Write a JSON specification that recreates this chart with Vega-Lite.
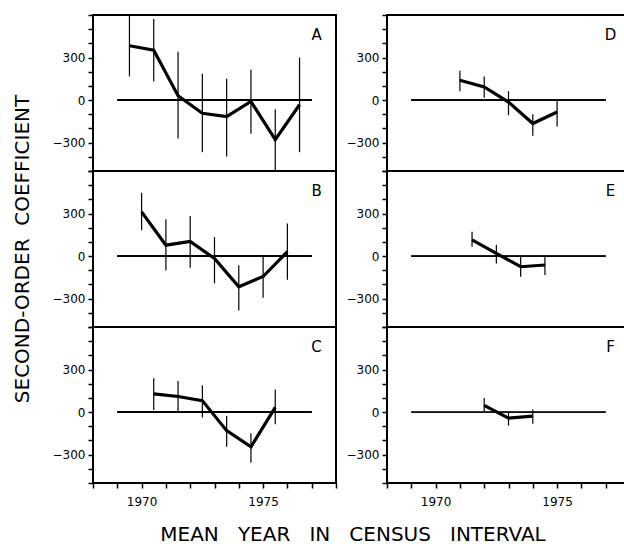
{
  "$schema": "https://vega.github.io/schema/vega-lite/v6.json",
  "padding": {"left": 12, "top": 13, "right": 0, "bottom": 0},
  "background": "white",
  "title": {"text": "MEAN\u00a0\u00a0\u00a0YEAR\u00a0\u00a0\u00a0IN\u00a0\u00a0\u00a0CENSUS\u00a0\u00a0\u00a0INTERVAL", "orient": "bottom", "anchor": "middle", "font": "DejaVu Sans", "fontSize": 20, "fontWeight": "normal", "color": "black", "offset": 18, "dx": 31},
  "data": {"values": [
    {"panel": "A", "col": "L", "row": 1, "year": 1969.5, "value": 383, "lo": 167, "hi": 600},
    {"panel": "A", "col": "L", "row": 1, "year": 1970.5, "value": 352, "lo": 131, "hi": 571},
    {"panel": "A", "col": "L", "row": 1, "year": 1971.5, "value": 31, "lo": -271, "hi": 340},
    {"panel": "A", "col": "L", "row": 1, "year": 1972.5, "value": -93, "lo": -367, "hi": 186},
    {"panel": "A", "col": "L", "row": 1, "year": 1973.5, "value": -117, "lo": -398, "hi": 150},
    {"panel": "A", "col": "L", "row": 1, "year": 1974.5, "value": -10, "lo": -238, "hi": 214},
    {"panel": "A", "col": "L", "row": 1, "year": 1975.5, "value": -279, "lo": -500, "hi": -64},
    {"panel": "A", "col": "L", "row": 1, "year": 1976.5, "value": -33, "lo": -367, "hi": 300},
    {"panel": "B", "col": "L", "row": 2, "year": 1970, "value": 312, "lo": 182, "hi": 446},
    {"panel": "B", "col": "L", "row": 2, "year": 1971, "value": 77, "lo": -101, "hi": 259},
    {"panel": "B", "col": "L", "row": 2, "year": 1972, "value": 103, "lo": -82, "hi": 283},
    {"panel": "B", "col": "L", "row": 2, "year": 1973, "value": -17, "lo": -192, "hi": 134},
    {"panel": "B", "col": "L", "row": 2, "year": 1974, "value": -216, "lo": -384, "hi": -65},
    {"panel": "B", "col": "L", "row": 2, "year": 1975, "value": -144, "lo": -293, "hi": 7},
    {"panel": "B", "col": "L", "row": 2, "year": 1976, "value": 31, "lo": -166, "hi": 230},
    {"panel": "C", "col": "L", "row": 3, "year": 1970.5, "value": 129, "lo": 15, "hi": 238},
    {"panel": "C", "col": "L", "row": 3, "year": 1971.5, "value": 110, "lo": 5, "hi": 219},
    {"panel": "C", "col": "L", "row": 3, "year": 1972.5, "value": 81, "lo": -38, "hi": 190},
    {"panel": "C", "col": "L", "row": 3, "year": 1973.5, "value": -131, "lo": -245, "hi": -26},
    {"panel": "C", "col": "L", "row": 3, "year": 1974.5, "value": -245, "lo": -357, "hi": -150},
    {"panel": "C", "col": "L", "row": 3, "year": 1975.5, "value": 33, "lo": -86, "hi": 160},
    {"panel": "D", "col": "R", "row": 1, "year": 1971, "value": 140, "lo": 63, "hi": 207},
    {"panel": "D", "col": "R", "row": 1, "year": 1972, "value": 93, "lo": 16, "hi": 167},
    {"panel": "D", "col": "R", "row": 1, "year": 1973, "value": -14, "lo": -107, "hi": 63},
    {"panel": "D", "col": "R", "row": 1, "year": 1974, "value": -165, "lo": -251, "hi": -100},
    {"panel": "D", "col": "R", "row": 1, "year": 1975, "value": -84, "lo": -186, "hi": 5},
    {"panel": "E", "col": "R", "row": 2, "year": 1971.5, "value": 115, "lo": 66, "hi": 171},
    {"panel": "E", "col": "R", "row": 2, "year": 1972.5, "value": 19, "lo": -52, "hi": 80},
    {"panel": "E", "col": "R", "row": 2, "year": 1973.5, "value": -75, "lo": -145, "hi": -5},
    {"panel": "E", "col": "R", "row": 2, "year": 1974.5, "value": -63, "lo": -134, "hi": -5},
    {"panel": "F", "col": "R", "row": 3, "year": 1972, "value": 47, "lo": 5, "hi": 99},
    {"panel": "F", "col": "R", "row": 3, "year": 1973, "value": -43, "lo": -95, "hi": 5},
    {"panel": "F", "col": "R", "row": 3, "year": 1974, "value": -28, "lo": -83, "hi": 19}
  ]},
  "facet": {
    "row": {"field": "row", "type": "ordinal", "header": {"labels": false, "title": "SECOND-ORDER\u00a0\u00a0COEFFICIENT", "titleOrient": "left", "titleFont": "DejaVu Sans", "titleFontSize": 20, "titleFontWeight": "normal", "titleColor": "black", "titlePadding": 50}},
    "column": {"field": "col", "type": "nominal", "header": {"labels": false, "title": null}}
  },
  "spacing": {"row": 0, "column": 51},
  "bounds": "flush",
  "resolve": {"axis": {"y": "independent"}},
  "spec": {
    "width": 243,
    "height": 156,
    "encoding": {
      "x": {"field": "year", "type": "quantitative", "scale": {"domain": [1968, 1978], "nice": false, "zero": false},
        "axis": {"title": null, "grid": false, "domain": false, "values": [1968, 1969, 1970, 1971, 1972, 1973, 1974, 1975, 1976, 1977, 1978], "format": "d", "labelExpr": "datum.value === 1970 || datum.value === 1975 ? datum.label : ''", "tickSize": 5, "tickColor": "black", "tickWidth": 1.5, "labelFont": "DejaVu Sans", "labelFontSize": 12, "labelColor": "black", "labelPadding": 8}},
      "y": {"field": "value", "type": "quantitative", "scale": {"domain": [-500, 600], "nice": false, "zero": false},
        "axis": {"title": null, "grid": false, "domain": false, "values": [-500, -400, -300, -200, -100, 0, 100, 200, 300, 400, 500, 600], "labelExpr": "datum.value === 300 || datum.value === 0 || datum.value === -300 ? datum.label : ''", "tickSize": 5, "tickColor": "black", "tickWidth": 1.5, "labelFont": "DejaVu Sans", "labelFontSize": 12, "labelColor": "black", "labelPadding": 3}}
    },
    "layer": [
      {"mark": {"type": "rule", "color": "black", "strokeWidth": 1}, "encoding": {"x": {"datum": 1969}, "x2": {"datum": 1977}, "y": {"datum": 0}}},
      {"mark": {"type": "rule", "color": "black", "strokeWidth": 1.2}, "encoding": {"y": {"field": "lo", "type": "quantitative"}, "y2": {"field": "hi"}}},
      {"mark": {"type": "line", "color": "black", "strokeWidth": 3.2, "strokeJoin": "miter"}, "encoding": {"y": {"field": "value", "type": "quantitative"}}},
      {"transform": [{"window": [{"op": "row_number", "as": "rn"}], "groupby": ["panel"]}, {"filter": "datum.rn === 1"}],
       "mark": {"type": "text", "font": "DejaVu Sans", "fontSize": 15, "color": "black", "align": "center", "baseline": "middle"},
       "encoding": {"x": {"datum": 1977.2}, "y": {"datum": 460}, "text": {"field": "panel", "type": "nominal"}}}
    ]
  },
  "config": {"view": {"stroke": "black", "strokeWidth": 2}}
}
